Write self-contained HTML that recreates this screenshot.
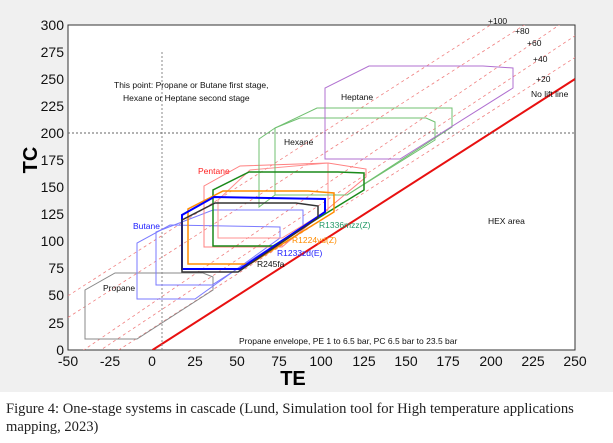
<!DOCTYPE html>
<html><head><style>
body{margin:0;width:613px;height:443px;background:#fff;overflow:hidden;font-family:"Liberation Sans",sans-serif}
.cap{position:absolute;left:6px;top:400px;font-family:"Liberation Serif",serif;font-size:14.6px;line-height:18px;color:#222;width:592px}
</style></head><body>
<svg width="613" height="392" style="position:absolute;left:0;top:0" font-family="Liberation Sans, sans-serif">
<rect width="613" height="392" fill="#f0f0f0"/>
<rect x="68" y="25" width="507" height="325" fill="#fff" stroke="#333" stroke-width="1"/>
<defs><clipPath id="c"><rect x="68" y="25" width="507" height="325"/></clipPath></defs>
<g clip-path="url(#c)" fill="none">
<g stroke="#f08080" stroke-width="0.8" stroke-dasharray="3,3">
<line x1="68" y1="382.5" x2="575" y2="57.5"/>
<line x1="68" y1="371.7" x2="575" y2="35.8"/>
<line x1="68" y1="360.8" x2="575" y2="14.2"/>
<line x1="68" y1="317.5" x2="575" y2="-7.5"/>
<line x1="68" y1="295.8" x2="575" y2="-29.2"/>
</g>
<line x1="152.5" y1="350" x2="575" y2="79" stroke="#e81010" stroke-width="2"/>
<line x1="162" y1="52" x2="162" y2="350" stroke="#888" stroke-dasharray="2,2"/>
<line x1="68" y1="133" x2="575" y2="133" stroke="#666" stroke-dasharray="2,2"/>
<polygon points="85,339 85,290 115,273 203,273 213,277 213,290 137,339" stroke="#888"/>
<polygon points="137,299 137,243 170,225 280,227 280,238 195,299" stroke="#7a7aff"/>
<polygon points="156,285 156,232 213,210 303,210 303,227 212,285" stroke="#7a7aff"/>
<polygon points="204,247 204,186 240,166 328,163 366,169 366,177 282,247" stroke="#ff8080"/>
<polygon points="218,238 218,200 250,170 328,163 328,210 282,238" stroke="#ff9090"/>
<polygon points="259,207 259,139 275,128 317,108 452,108 452,127 347,195 275,195" stroke="#70c070"/>
<polygon points="275,195 275,128 300,118 426,118 435,122 435,140 347,195" stroke="#70c070"/>
<polygon points="325,159 325,88 369,66 483,66 513,68 513,88 400,159" stroke="#b070d0"/>
<polygon points="213,246 213,190 249,172 338,172 364,173 364,190 273,246" stroke="#1a8a1a" stroke-width="1.5"/>
<polygon points="188,264 188,209 223,191 308,191 334,193 334,212 250,264" stroke="#ff8c00" stroke-width="1.5"/>
<polygon points="182,269 182,215 214,197 325,199 325,212 240,269" stroke="#0000ff" stroke-width="2"/>
<polygon points="182,272 182,220 215,203 296,203 318,206 318,218 238,272" stroke="#333" stroke-width="1.5"/>
</g>
<g font-size="8.5" fill="#111">
<text x="114" y="88">This point: Propane or Butane first stage,</text>
<text x="123" y="101">Hexane or Heptane second stage</text>
<text x="341" y="100">Heptane</text>
<text x="284" y="145">Hexane</text>
<text x="198" y="174" fill="#ff2020">Pentane</text>
<text x="133" y="229" fill="#2020ff">Butane</text>
<text x="103" y="291">Propane</text>
<text x="319" y="228" fill="#229966">R1336mzz(Z)</text>
<text x="292" y="243" fill="#ff8c00">R1224yd(Z)</text>
<text x="277" y="256" fill="#2020ff">R1233zd(E)</text>
<text x="257" y="267">R245fa</text>
<text x="488" y="224">HEX area</text>
<text x="239" y="344">Propane envelope, PE 1 to 6.5 bar, PC 6.5 bar to 23.5 bar</text>
<text x="488" y="24">+100</text>
<text x="515" y="34">+80</text>
<text x="527" y="46">+60</text>
<text x="533" y="62">+40</text>
<text x="536" y="82">+20</text>
<text x="531" y="97">No lift line</text>
</g>
<g font-size="14" fill="#111" text-anchor="end">
<text x="64" y="30">300</text><text x="64" y="57">275</text><text x="64" y="84">250</text>
<text x="64" y="111">225</text><text x="64" y="138">200</text><text x="64" y="165">175</text>
<text x="64" y="192">150</text><text x="64" y="219">125</text><text x="64" y="246">100</text>
<text x="64" y="273">75</text><text x="64" y="300">50</text><text x="64" y="328">25</text>
<text x="64" y="355">0</text>
</g>
<g font-size="14" fill="#111" text-anchor="middle">
<text x="68" y="366">-50</text><text x="110" y="366">-25</text><text x="152" y="366">0</text>
<text x="195" y="366">25</text><text x="237" y="366">50</text><text x="279" y="366">75</text>
<text x="321" y="366">100</text><text x="364" y="366">125</text><text x="406" y="366">150</text>
<text x="448" y="366">175</text><text x="491" y="366">200</text><text x="533" y="366">225</text>
<text x="575" y="366">250</text>
</g>
<text x="293" y="385" font-size="20" font-weight="bold" text-anchor="middle">TE</text>
<text transform="translate(37,160) rotate(-90)" font-size="20" font-weight="bold" text-anchor="middle">TC</text>
</svg>
<div class="cap">Figure 4: One-stage systems in cascade (Lund, Simulation tool for High temperature applications mapping, 2023)</div>
</body></html>
